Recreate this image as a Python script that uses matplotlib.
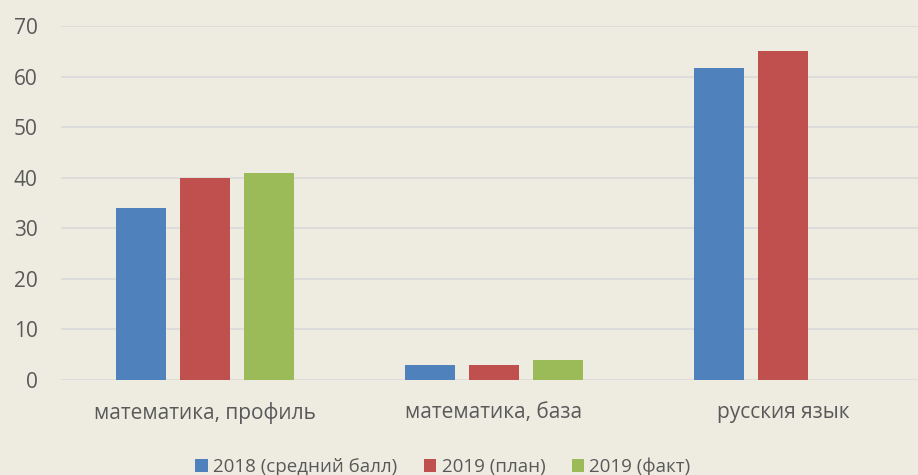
import matplotlib
matplotlib.use("Agg")
import matplotlib.pyplot as plt
import numpy as np

categories = ["математика, профиль", "математика, база", "русския язык"]
series_names = ["2018 (средний балл)", "2019 (план)", "2019 (факт)"]
s2018 = [34, 3, 61.6]
s2019_plan = [40, 3, 65]
s2019_fact = [41, 4, np.nan]
yticks = [0, 10, 20, 30, 40, 50, 60, 70]

colors = ["#4F81BD", "#C0504D", "#9BBB59"]
bg = "#EEECE1"
txt = "#595959"

plt.rcParams['font.family'] = ['Open Sans', 'DejaVu Sans']

fig = plt.figure(figsize=(9.18, 4.75), dpi=100, facecolor=bg)
ax = fig.add_axes([60.5/918, 1 - 380/475, 867/918, (380 - 26)/475])
ax.set_facecolor(bg)

x = np.arange(len(categories))
w = 50/289
off = 64/289
for i, (vals, c, n) in enumerate(zip([s2018, s2019_plan, s2019_fact], colors, series_names)):
    ax.bar(x + (i - 1) * off, vals, width=w, color=c, label=n, zorder=3)

ax.set_xlim(-0.5, 2.5)
ax.set_ylim(0, 70)
ax.set_yticks(yticks)
ax.set_yticklabels([str(v) for v in yticks])
ax.set_xticks(x)
ax.set_xticklabels(categories)
ax.grid(axis='y', color="#D9D9D9", linewidth=1.2, zorder=0)
ax.set_axisbelow(True)
for s in ax.spines.values():
    s.set_visible(False)
ax.tick_params(axis='both', length=0, labelsize=15, colors=txt)
ax.tick_params(axis='y', pad=16.5)
ax.tick_params(axis='x', pad=16)

handles, labels = ax.get_legend_handles_labels()
leg = fig.legend(handles, labels, loc='center', bbox_to_anchor=(443/918, 1 - 467/475), ncol=3,
                 frameon=False, fontsize=13.5, handlelength=0.65, handleheight=0.65,
                 handletextpad=0.3, columnspacing=1.4, labelcolor=txt)

fig.savefig("out.png", dpi=100, facecolor=bg)
